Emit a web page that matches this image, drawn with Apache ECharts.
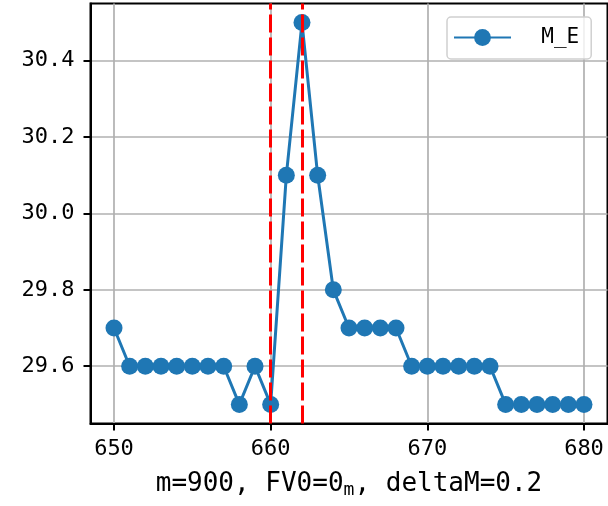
<!DOCTYPE html>
<html>
<head>
<meta charset="utf-8">
<script src="https://cdn.jsdelivr.net/npm/echarts@6/dist/echarts.min.js"></script>
<style>
  html, body { margin: 0; padding: 0; background: #fff; }
  #chart { width: 608px; height: 506px; }
</style>
</head>
<body>
<div id="chart"></div>
<script>
// data
const xValues = [650, 651, 652, 653, 654, 655, 656, 657, 658, 659, 660, 661, 662, 663, 664, 665,
  666, 667, 668, 669, 670, 671, 672, 673, 674, 675, 676, 677, 678, 679, 680];
const meValues = [29.7, 29.6, 29.6, 29.6, 29.6, 29.6, 29.6, 29.6, 29.5, 29.6, 29.5, 30.1, 30.5, 30.1, 29.8, 29.7,
  29.7, 29.7, 29.7, 29.6, 29.6, 29.6, 29.6, 29.6, 29.6, 29.5, 29.5, 29.5, 29.5, 29.5, 29.5];
const vLines = [660, 662];
const xTicks = [650, 660, 670, 680];
const yTicks = [29.6, 29.8, 30.0, 30.2, 30.4];

const FONT = "DejaVu Sans Mono";
const BLUE = "#1f77b4";

const myChart = echarts.init(document.getElementById("chart"));

const option = {
  animation: false,
  grid: {
    left: 90.5,
    top: 3.5,
    right: 0.5,
    bottom: 82.5,
    show: true,
    borderColor: "#000",
    borderWidth: 2,
    outerBoundsMode: "none"
  },
  legend: {
    data: ["M_E"],
    left: 447,
    top: 17,
    padding: [10, 12, 11, 6],
    itemWidth: 57,
    itemHeight: 21,
    formatter: "  {name}",
    borderColor: "#d0d0d0",
    borderWidth: 1.5,
    borderRadius: 4,
    backgroundColor: "rgba(255,255,255,0.8)",
    textStyle: { fontFamily: FONT, fontSize: 21, color: "#000" }
  },
  xAxis: {
    type: "value",
    min: 648.5,
    max: 681.5,
    name: "m=900, FV0=0{s|m}, deltaM=0.2",
    nameLocation: "middle",
    nameGap: 46,
    nameTextStyle: {
      fontFamily: FONT,
      fontSize: 26,
      color: "#000",
      rich: {
        s: { fontFamily: FONT, fontSize: 18, color: "#000", padding: [12, 0, 0, 0] }
      }
    },
    axisLine: { show: true, lineStyle: { color: "#000", width: 2 } },
    axisTick: { show: true, length: 7, customValues: xTicks, lineStyle: { color: "#000", width: 2 } },
    axisLabel: {
      customValues: xTicks,
      margin: 15,
      fontFamily: FONT,
      fontSize: 22,
      color: "#000"
    },
    splitLine: { show: true, customValues: xTicks, lineStyle: { color: "#b0b0b0", width: 1.7 } }
  },
  yAxis: {
    type: "value",
    min: 29.45,
    max: 30.55,
    axisLine: { show: true, lineStyle: { color: "#000", width: 2 } },
    axisTick: { show: true, length: 7, customValues: yTicks, lineStyle: { color: "#000", width: 2 } },
    axisLabel: {
      customValues: yTicks,
      margin: 16,
      fontFamily: FONT,
      fontSize: 22,
      color: "#000",
      formatter: v => v.toFixed(1)
    },
    splitLine: { show: true, customValues: yTicks, lineStyle: { color: "#b0b0b0", width: 1.7 } }
  },
  series: [
    {
      name: "M_E",
      type: "line",
      data: xValues.map((x, i) => [x, meValues[i]]),
      symbol: "circle",
      symbolSize: 17,
      showAllSymbol: true,
      lineStyle: { color: BLUE, width: 3 },
      itemStyle: { color: BLUE },
      markLine: {
        silent: true,
        symbol: ["none", "none"],
        label: { show: false },
        lineStyle: { color: "#ff0000", type: [18, 5], width: 3 },
        data: vLines.map(v => ({ xAxis: v }))
      }
    }
  ]
};

myChart.setOption(option);
</script>
</body>
</html>
